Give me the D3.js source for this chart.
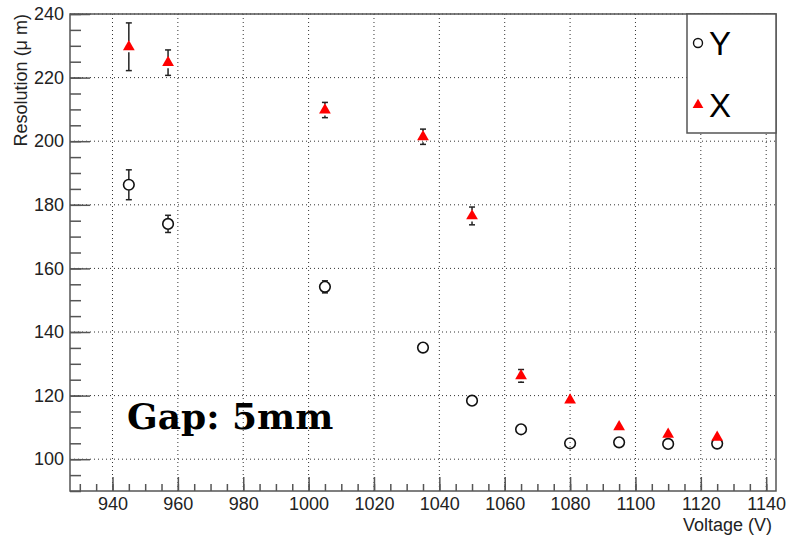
<!DOCTYPE html>
<html>
<head>
<meta charset="utf-8">
<script src="https://cdn.jsdelivr.net/npm/d3@7"></script>
<style>
  body { margin: 0; background: #fff; }
  text { font-family: "Liberation Sans", Arial, sans-serif; }
</style>
</head>
<body>
<svg id="res" width="786" height="535"></svg>
<script>
// voltage scan, gap 5mm
var voltage = [945, 957, 1005, 1035, 1050, 1065, 1080, 1095, 1110, 1125];
var resX = [229.7, 224.7, 209.8, 201.4, 176.5, 126.2, 118.6, 110.2, 107.8, 106.9];
var errX = [7.5, 4.0, 2.4, 2.4, 2.8, 2.0, 1.0, 1.0, 1.0, 1.0];
var resY = [186.3, 174.0, 154.2, 135.1, 118.4, 109.4, 105.0, 105.3, 104.8, 104.9];
var errY = [4.7, 2.7, 1.9, 1.6, 1.4, 1.0, 0.8, 0.8, 0.8, 0.8];

var xTicks = d3.range(940, 1141, 20);
var yTicks = d3.range(100, 241, 20);

var svg = d3.select("#res"),
  margin = { top: 14, right: 10, bottom: 44, left: 70 },
  width = +svg.attr("width") - margin.left - margin.right,
  height = +svg.attr("height") - margin.top - margin.bottom;

var x = d3.scaleLinear().domain([927, 1143]).range([margin.left, margin.left + width]);
var y = d3.scaleLinear().domain([90, 240]).range([margin.top + height, margin.top]);

var axisColor = "#555";

// grid
svg.append("g").selectAll("line").data(xTicks).join("line")
  .attr("x1", d => x(d)).attr("x2", d => x(d))
  .attr("y1", margin.top).attr("y2", margin.top + height)
  .style("stroke", "#333").style("stroke-width", 1).style("stroke-dasharray", "1,3");
svg.append("g").selectAll("line").data(yTicks).join("line")
  .attr("x1", margin.left).attr("x2", margin.left + width)
  .attr("y1", d => y(d)).attr("y2", d => y(d))
  .style("stroke", "#333").style("stroke-width", 1).style("stroke-dasharray", "1,3");

// frame
svg.append("rect")
  .attr("x", margin.left).attr("y", margin.top)
  .attr("width", width).attr("height", height)
  .style("fill", "none").style("stroke", axisColor).style("stroke-width", 1.5);

// x axis, ticks pointing inward
var xMinor = svg.append("g")
  .attr("transform", "translate(0," + (margin.top + height) + ")")
  .call(d3.axisBottom(x).tickValues(d3.range(930, 1143, 5)).tickSize(-7).tickFormat(""));
var xMajor = svg.append("g")
  .attr("transform", "translate(0," + (margin.top + height) + ")")
  .call(d3.axisBottom(x).tickValues(xTicks).tickSize(-14).tickPadding(6).tickFormat(d3.format("d")));

// y axis
var yMinor = svg.append("g")
  .attr("transform", "translate(" + margin.left + ",0)")
  .call(d3.axisLeft(y).tickValues(d3.range(90, 241, 5)).tickSize(-11).tickFormat(""));
var yMajor = svg.append("g")
  .attr("transform", "translate(" + margin.left + ",0)")
  .call(d3.axisLeft(y).tickValues(yTicks).tickSize(-20).tickPadding(6).tickFormat(d3.format("d")));

[xMinor, xMajor, yMinor, yMajor].forEach(g => {
  g.select(".domain").remove();
  g.selectAll(".tick line").style("stroke", axisColor).style("stroke-width", 1.5);
  g.selectAll(".tick text").style("font-size", "18px").style("fill", "#222")
    .style("font-family", "'Liberation Sans', Arial, sans-serif");
});

// axis titles
svg.append("text")
  .attr("x", 772)
  .attr("y", 531)
  .attr("text-anchor", "end")
  .style("font-size", "18px").style("fill", "#222")
  .text("Voltage (V)");

svg.append("text")
  .attr("transform", "translate(27," + margin.top + ") rotate(-90)")
  .attr("text-anchor", "end")
  .style("font-size", "18px").style("fill", "#222")
  .text("Resolution (μ m)");

// error bars
function errorBars(vals, errs, gap) {
  var g = svg.append("g").style("stroke", "#222").style("stroke-width", 1.5);
  voltage.forEach((v, i) => {
    var cx = x(v), top = y(vals[i] + errs[i]), bot = y(vals[i] - errs[i]), cy = y(vals[i]);
    if (cy - top > gap) {
      g.append("line").attr("x1", cx).attr("x2", cx).attr("y1", top).attr("y2", cy - gap);
      g.append("line").attr("x1", cx - 3).attr("x2", cx + 3).attr("y1", top).attr("y2", top);
    }
    if (bot - cy > gap) {
      g.append("line").attr("x1", cx).attr("x2", cx).attr("y1", cy + gap).attr("y2", bot);
      g.append("line").attr("x1", cx - 3).attr("x2", cx + 3).attr("y1", bot).attr("y2", bot);
    }
  });
}
errorBars(resY, errY, 5.5);
errorBars(resX, errX, 5.5);

var tri = d3.symbol().type(d3.symbolTriangle).size(60);

// Y: open circles
svg.append("g").selectAll("circle").data(voltage).join("circle")
  .attr("cx", d => x(d))
  .attr("cy", (d, i) => y(resY[i]))
  .attr("r", 5.3)
  .style("fill", "none").style("stroke", "#111").style("stroke-width", 1.6);

// X: red triangles
svg.append("g").selectAll("path").data(voltage).join("path")
  .attr("d", tri)
  .attr("transform", (d, i) => "translate(" + x(d) + "," + y(resX[i]) + ")")
  .style("fill", "#ff0000");

// legend
var lg = svg.append("g");
lg.append("rect")
  .attr("x", 687).attr("y", 14).attr("width", 89).attr("height", 119)
  .style("fill", "#fff").style("stroke", axisColor).style("stroke-width", 1.5);
lg.append("circle").attr("cx", 698).attr("cy", 43).attr("r", 4.5)
  .style("fill", "none").style("stroke", "#111").style("stroke-width", 1.4);
lg.append("path").attr("d", d3.symbol().type(d3.symbolTriangle).size(50))
  .attr("transform", "translate(698,105)").style("fill", "#ff0000");
lg.append("text").attr("x", 709).attr("y", 55)
  .style("font-size", "33px").style("fill", "#000").text("Y");
lg.append("text").attr("x", 709).attr("y", 117)
  .style("font-size", "33px").style("fill", "#000").text("X");

// annotation
svg.append("text")
  .attr("x", 127).attr("y", 429)
  .style("font-family", "'DejaVu Serif', serif")
  .style("font-weight", "bold")
  .style("font-size", "36px")
  .style("fill", "#000")
  .text("Gap: 5mm");
</script>
</body>
</html>
